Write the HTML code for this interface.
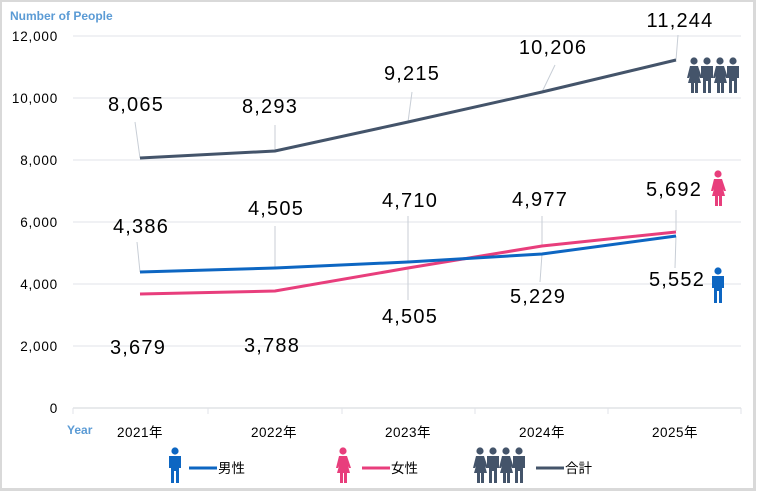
<!DOCTYPE html>
<html><head><meta charset="utf-8"><style>
body{margin:0;background:#fff}
svg{display:block;font-family:"Liberation Sans","Noto Sans CJK JP",sans-serif}
</style></head><body>
<svg width="757" height="492" viewBox="0 0 757 492">
<defs>
<g id="m"><circle cx="0" cy="-19" r="3.6"/><path d="M-6,-14 h12 v12 h-2 v15 h-3 v-12 h-2 v12 h-3 v-15 h-2 z"/></g>
<g id="f"><circle cx="0" cy="-19" r="3.6"/><path d="M-4,-14 h8 l4,12 h-2 l-1,-2 l2,7 h-3 v10 h-3 v-10 h-1 v10 h-3 v-10 h-3 l2,-7 l-1,2 h-2 z"/></g>
</defs>
<rect x="0.5" y="0.5" width="754" height="489" fill="#fff" stroke="#d9d9d9" stroke-width="3"/>
<text x="10" y="20" font-size="12" font-weight="bold" fill="#5b9bd5">Number of People</text>
<g stroke="#e0e3e8" stroke-width="1">
<line x1="73" y1="36" x2="741" y2="36"/><line x1="73" y1="98" x2="741" y2="98"/>
<line x1="73" y1="160" x2="741" y2="160"/><line x1="73" y1="222" x2="741" y2="222"/>
<line x1="73" y1="284" x2="741" y2="284"/><line x1="73" y1="346" x2="741" y2="346"/>
<line x1="73" y1="408" x2="741" y2="408" stroke="#d0d4da"/>
<line x1="73" y1="408" x2="73" y2="414"/><line x1="208" y1="408" x2="208" y2="414"/>
<line x1="342" y1="408" x2="342" y2="414"/><line x1="475" y1="408" x2="475" y2="414"/>
<line x1="608" y1="408" x2="608" y2="414"/><line x1="741" y1="408" x2="741" y2="414"/>
</g>
<g font-size="13.5" fill="#000" text-anchor="end" letter-spacing="0.8">
<text x="58" y="41">12,000</text><text x="58" y="103">10,000</text><text x="58" y="165">8,000</text>
<text x="58" y="227">6,000</text><text x="58" y="289">4,000</text><text x="58" y="351">2,000</text><text x="58" y="413">0</text>
</g>
<text x="67" y="434" font-size="12" font-weight="bold" fill="#5b9bd5">Year</text>
<g font-size="13.5" text-anchor="middle" letter-spacing="0.5">
<text x="140" y="437">2021年</text><text x="274" y="437">2022年</text><text x="408" y="437">2023年</text>
<text x="542" y="437">2024年</text><text x="675" y="437">2025年</text>
</g>
<g stroke="#c8ced6" stroke-width="1">
<line x1="140" y1="158" x2="135" y2="122"/><line x1="275" y1="151" x2="275" y2="125"/>
<line x1="408" y1="122" x2="412" y2="92"/><line x1="542" y1="92" x2="555" y2="65"/>
<line x1="676" y1="60" x2="678" y2="35"/>
<line x1="140" y1="272" x2="137" y2="242"/><line x1="275" y1="268" x2="275" y2="226"/>
<line x1="408" y1="262" x2="408" y2="216"/><line x1="542" y1="254" x2="540" y2="282"/>
<line x1="676" y1="236" x2="675" y2="268"/><line x1="676" y1="231" x2="676" y2="210"/>
<line x1="408" y1="268" x2="408" y2="300"/><line x1="542" y1="246" x2="542" y2="216"/>
</g>
<polyline fill="none" stroke="#44546a" stroke-width="3" points="140,158 275,151 408,122 542,92 676,60"/>
<polyline fill="none" stroke="#e83e7c" stroke-width="3" points="140,294 275,291 408,268 542,246 676,232"/>
<polyline fill="none" stroke="#0d66c2" stroke-width="3" points="140,272 275,268 408,262 542,254 676,236"/>
<g font-size="20" text-anchor="middle" fill="#000" letter-spacing="1.2">
<text x="136" y="111">8,065</text><text x="270" y="113">8,293</text><text x="412" y="80">9,215</text>
<text x="553" y="54">10,206</text><text x="680" y="27">11,244</text>
<text x="141" y="233">4,386</text><text x="276" y="215">4,505</text><text x="410" y="207">4,710</text>
<text x="540" y="206">4,977</text><text x="674" y="196">5,692</text>
<text x="138" y="354">3,679</text><text x="272" y="352">3,788</text><text x="410" y="323">4,505</text>
<text x="538" y="303">5,229</text><text x="677" y="286">5,552</text>
</g>
<g fill="#44546a"><use href="#f" x="694" y="80"/><use href="#m" x="707" y="80"/><use href="#f" x="720" y="80"/><use href="#m" x="733" y="80"/></g>
<use href="#f" x="718" y="193" fill="#e83e7c"/>
<use href="#m" x="718" y="290" fill="#0d66c2"/>
<use href="#m" x="175" y="470" fill="#0d66c2"/>
<line x1="189" y1="468" x2="217" y2="468" stroke="#0d66c2" stroke-width="3"/>
<text x="218" y="473" font-size="13.5">男性</text>
<use href="#f" x="343" y="470" fill="#e83e7c"/>
<line x1="362" y1="468" x2="390" y2="468" stroke="#e83e7c" stroke-width="3"/>
<text x="391" y="473" font-size="13.5">女性</text>
<g fill="#44546a"><use href="#f" x="480" y="470"/><use href="#m" x="493" y="470"/><use href="#f" x="506" y="470"/><use href="#m" x="519" y="470"/></g>
<line x1="536" y1="468" x2="564" y2="468" stroke="#44546a" stroke-width="3"/>
<text x="565" y="473" font-size="13.5">合計</text>
</svg>
</body></html>
